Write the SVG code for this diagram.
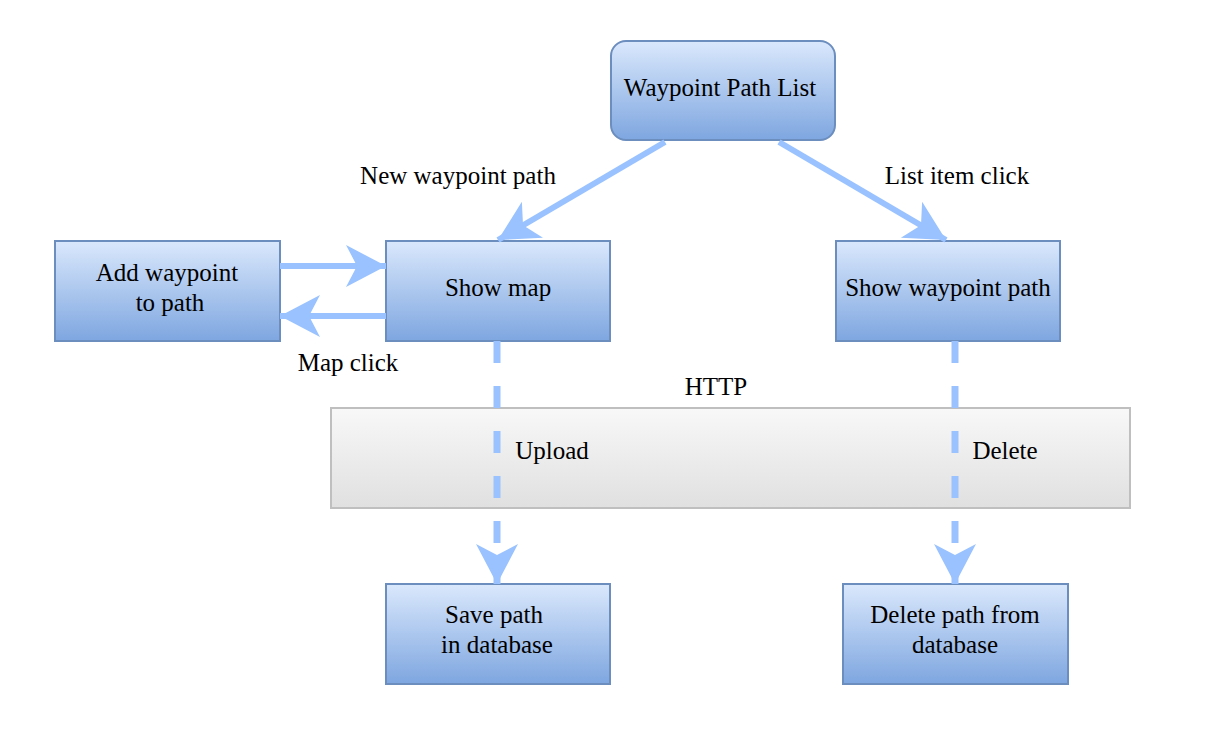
<svg xmlns="http://www.w3.org/2000/svg" width="1220" height="732" viewBox="0 0 1220 732">
<defs>
<linearGradient id="blue" x1="0" y1="0" x2="0" y2="1"><stop offset="0" stop-color="#dae8fc"/><stop offset="1" stop-color="#7ea6e0"/></linearGradient>
<linearGradient id="gray" x1="0" y1="0" x2="0" y2="1"><stop offset="0" stop-color="#f8f8f8"/><stop offset="1" stop-color="#e0e0e0"/></linearGradient>
<marker id="arr" markerUnits="userSpaceOnUse" markerWidth="44" markerHeight="46" refX="40" refY="22" orient="auto" viewBox="0 0 44 46">
<path d="M0,1 L40,22 L0,43 L11,22 Z" fill="#99c2ff"/>
</marker>
</defs>
<style>
.node{fill:url(#blue);stroke:#6c8ebf;stroke-width:2}
.http{fill:url(#gray);stroke:#bfbfbf;stroke-width:2}
.t{font-family:"Liberation Serif","Times New Roman",serif;font-size:25px;fill:#000;text-anchor:middle}
.e{stroke:#99c2ff;stroke-width:6;fill:none;marker-end:url(#arr)}
.d{stroke-dasharray:22 23;stroke-width:7}
</style>
<rect width="1220" height="732" fill="#fff"/>
<g id="http">
<rect class="http" x="331" y="408" width="799" height="100"/>
<text class="t" x="716" y="395">HTTP</text>
</g>
<g id="list"><rect class="node" x="611" y="41" width="224" height="99" rx="15"/><text class="t" x="720" y="96">Waypoint Path List</text></g>
<g id="add"><rect class="node" x="55" y="241" width="225" height="100"/><text class="t" x="167" y="281">Add waypoint</text><text class="t" x="170" y="311">to path</text></g>
<g id="map"><rect class="node" x="386" y="241" width="224" height="100"/><text class="t" x="498" y="296">Show map</text></g>
<g id="show"><rect class="node" x="836" y="241" width="224" height="100"/><text class="t" x="948" y="296">Show waypoint path</text></g>
<g id="save"><rect class="node" x="386" y="584" width="224" height="100"/><text class="t" x="494" y="623">Save path</text><text class="t" x="497" y="653">in database</text></g>
<g id="del"><rect class="node" x="843" y="584" width="225" height="100"/><text class="t" x="955" y="623">Delete path from</text><text class="t" x="955" y="653">database</text></g>
<g id="connectors">
<path class="e" d="M665,142 L498,240"/>
<path class="e" d="M779,142 L946,240"/>
<path class="e" d="M280,266 L386,266"/>
<path class="e" d="M386,316 L280,316"/>
<path class="e d" d="M497,341 L497,584"/>
<path class="e d" d="M955,341 L955,584"/>
<text class="t" x="458" y="184">New waypoint path</text>
<text class="t" x="957" y="184">List item click</text>
<text class="t" x="348" y="371">Map click</text>
<text class="t" x="552" y="459">Upload</text>
<text class="t" x="1005" y="459">Delete</text>
</g>
</svg>
